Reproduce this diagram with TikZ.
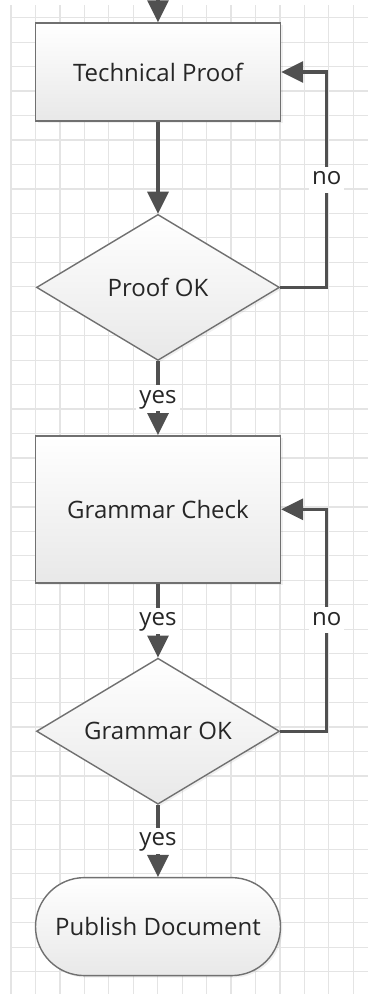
\documentclass[tikz,border=0pt]{standalone}
\usepackage{fontspec}
\setmainfont{Open Sans}
\usetikzlibrary{arrows.meta,positioning,shapes.geometric,shadows}
\definecolor{ln}{RGB}{80,80,80}
\definecolor{bd}{RGB}{112,112,112}
\definecolor{grd}{RGB}{228,228,228}

\begin{document}
\begin{tikzpicture}[x=1pt,y=1pt,>={Triangle[length=22pt,width=21pt]},node distance=74pt,
  every node/.style={font=\fontsize{24}{28}\selectfont,text=black!85},
  box/.style={draw=bd,line width=1.4pt,top color=white,bottom color=black!9,inner sep=0pt,
    minimum width=245pt,drop shadow={shadow xshift=2pt,shadow yshift=-2pt,opacity=.12}},
  test/.style={box,diamond,aspect=1.66,minimum width=243pt,minimum height=146pt},
  flow/.style={->,draw=ln,line width=3.2pt},
  lbl/.style={fill=white,inner xsep=3pt,inner ysep=2pt,text height=16pt,text depth=6pt}]
\useasboundingbox (0,0) rectangle (368,-994);
% grid
\foreach \i in {0,...,15} \draw[grd,line width=1.2pt] ({11+24.45*\i},-5) -- ({11+24.45*\i},-994);
\foreach \j in {0,...,40} \draw[grd,line width=1.2pt] (11,{-17.7-24.46*\j}) -- (368,{-17.7-24.46*\j});
% steps
\node[box,minimum height=98pt] (tech) at (158,-72) {Technical Proof};
\node[test,below=92pt of tech] (proof) {Proof OK};
\node[box,minimum height=147pt,below=of proof] (grammar) {Grammar Check};
\node[test,below=of grammar] (gramok) {Grammar OK};
\node[box,rounded corners=49pt,minimum height=98pt,below=72pt of gramok] (publish) {Publish Document};
\coordinate[above=30pt of tech] (entry);
% arrows
\draw[flow] (entry) -- (tech); \draw[flow] (tech) -- (proof);
\draw[flow] (proof) -- node[lbl]{yes} (grammar); \draw[flow] (grammar) -- node[lbl]{yes} (gramok);
\draw[flow] (gramok) -- node[lbl]{yes} (publish);
\draw[flow] (proof.east) -- ++(46.5pt,0) |- node[lbl,pos=.25]{no} (tech.east);
\draw[flow] (gramok.east) -- ++(46.5pt,0) |- node[lbl,pos=.25]{no} (grammar.east);
\end{tikzpicture}
\end{document}
